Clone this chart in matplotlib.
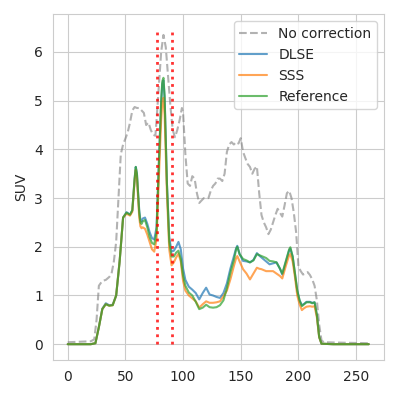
import matplotlib
matplotlib.use("Agg")
import matplotlib.pyplot as plt
import seaborn as sns

# uncorrected profile
x_nc = [0, 10, 20, 23, 25, 27, 30, 33, 36, 38, 40, 42, 44, 46, 48, 50, 52, 54, 56, 58,
        60, 62, 64, 66, 68, 70, 72, 74, 76, 77, 79, 81, 83, 85, 87, 89, 91, 93, 95, 97,
        99, 100, 102, 104, 106, 108, 110, 112, 114, 116, 118, 120, 122, 124, 126, 128, 130, 132, 134, 136,
        138, 140, 142, 144, 146, 148, 150, 152, 154, 156, 158, 160, 162, 164, 166, 168, 170, 172, 174, 176,
        178, 180, 182, 184, 186, 188, 190, 192, 194, 196, 198, 200, 202, 204, 206, 208, 210, 212, 214, 216,
        218, 220, 222, 240, 261]
no_corr = [0.04, 0.05, 0.06, 0.1, 0.5, 1.2, 1.3, 1.32, 1.38, 1.45, 1.7, 2.1, 3.0, 3.9, 4.1, 4.22, 4.35, 4.55, 4.8, 4.87,
           4.85, 4.85, 4.8, 4.75, 4.5, 4.55, 4.4, 4.3, 4.28, 4.6, 5.3, 6.0, 6.35, 6.1, 5.5, 4.9, 4.4, 4.25, 4.4, 4.6,
           4.85, 4.75, 3.9, 3.3, 3.25, 3.45, 3.4, 3.1, 2.9, 2.95, 3.0, 3.0, 3.0, 3.15, 3.25, 3.3, 3.4, 3.4, 3.35, 3.5,
           3.95, 4.1, 4.15, 4.1, 4.15, 4.12, 4.23, 3.95, 3.82, 3.7, 3.64, 3.5, 3.6, 3.65, 3.1, 2.65, 2.5, 2.4, 2.26, 2.35,
           2.5, 2.65, 2.78, 2.7, 2.62, 2.85, 3.1, 3.15, 3.0, 2.7, 2.3, 1.6, 1.5, 1.43, 1.45, 1.48, 1.42, 1.33, 1.2, 0.9,
           0.4, 0.08, 0.04, 0.03, 0.02]

# corrected profiles share one position list
x = [0, 10, 20, 24, 27, 30, 33, 36, 39, 42, 45, 48, 51, 54, 56, 58, 59, 60, 61, 62,
     63, 64, 65, 67, 69, 71, 73, 75, 77, 79, 81, 82, 83, 84, 85, 86, 88, 90, 92, 94,
     96, 98, 100, 102, 105, 108, 111, 114, 117, 120, 123, 126, 129, 132, 135, 138, 141, 144, 146, 147,
     149, 152, 155, 158, 161, 164, 166, 168, 172, 175, 178, 181, 184, 186, 189, 192, 193, 195, 197, 199,
     201, 203, 205, 207, 210, 212, 214, 216, 218, 220, 230, 245, 261]
dlse = [0, 0, 0, 0.02, 0.35, 0.73, 0.84, 0.8, 0.81, 1.0, 1.7, 2.6, 2.71, 2.66, 2.75, 3.4, 3.64, 3.5, 3.1, 2.75,
        2.55, 2.52, 2.58, 2.6, 2.47, 2.3, 2.18, 2.15, 2.4, 3.7, 4.95, 5.35, 5.42, 5.05, 4.2, 3.3, 2.2, 1.9, 1.92, 2.0,
        2.1, 1.95, 1.55, 1.32, 1.18, 1.12, 1.05, 0.92, 1.05, 1.16, 1.02, 1.0, 0.97, 0.95, 1.05, 1.25, 1.55, 1.8, 1.97, 2.02,
        1.85, 1.71, 1.7, 1.68, 1.73, 1.87, 1.82, 1.78, 1.7, 1.64, 1.66, 1.68, 1.55, 1.43, 1.68, 1.93, 1.96, 1.8, 1.45, 1.1,
        0.9, 0.8, 0.83, 0.87, 0.87, 0.85, 0.86, 0.6, 0.15, 0.01, 0, 0, 0]
sss = [0, 0, 0, 0.02, 0.35, 0.72, 0.82, 0.79, 0.8, 1.0, 1.7, 2.6, 2.68, 2.64, 2.72, 3.35, 3.58, 3.42, 3.0, 2.6,
       2.42, 2.38, 2.4, 2.37, 2.25, 2.1, 1.95, 1.9, 2.15, 3.4, 4.6, 4.98, 5.06, 4.7, 3.9, 3.1, 1.95, 1.62, 1.68, 1.78,
       1.86, 1.7, 1.3, 1.1, 1.0, 0.94, 0.88, 0.75, 0.82, 0.88, 0.85, 0.85, 0.86, 0.88, 0.98, 1.1, 1.33, 1.6, 1.77, 1.81,
       1.7, 1.54, 1.45, 1.33, 1.45, 1.57, 1.55, 1.54, 1.5, 1.5, 1.5, 1.45, 1.4, 1.35, 1.6, 1.83, 1.85, 1.7, 1.38, 1.0,
       0.82, 0.7, 0.74, 0.77, 0.78, 0.77, 0.78, 0.55, 0.14, 0.01, 0, 0, 0]
reference = [0, 0, 0, 0.02, 0.35, 0.72, 0.82, 0.79, 0.8, 1.0, 1.7, 2.6, 2.7, 2.66, 2.75, 3.4, 3.64, 3.5, 3.1, 2.7,
             2.5, 2.47, 2.52, 2.55, 2.4, 2.2, 2.08, 2.05, 2.3, 3.7, 5.0, 5.4, 5.47, 5.1, 4.2, 3.3, 2.1, 1.8, 1.8, 1.88,
             1.92, 1.75, 1.4, 1.2, 1.06, 1.0, 0.87, 0.72, 0.75, 0.81, 0.76, 0.75, 0.76, 0.8, 0.9, 1.15, 1.47, 1.72, 1.95, 2.0,
             1.85, 1.75, 1.72, 1.68, 1.72, 1.85, 1.83, 1.81, 1.77, 1.71, 1.7, 1.68, 1.55, 1.45, 1.7, 1.95, 1.99, 1.8, 1.45, 1.1,
             0.9, 0.78, 0.82, 0.86, 0.86, 0.84, 0.86, 0.6, 0.15, 0.01, 0, 0, 0]

roi_bounds = [77, 90]


def main():
    sns.set_style("whitegrid")
    fig = plt.figure(figsize=(3.99, 3.99), dpi=100)
    ax = fig.add_axes([0.132, 0.098, 0.830, 0.866])

    ax.plot(x_nc, no_corr, color="gray", linestyle="--", alpha=0.6, lw=1.5, label="No correction")
    ax.plot(x, dlse, color="tab:blue", alpha=0.7, lw=1.5, label="DLSE")
    ax.plot(x, sss, color="tab:orange", alpha=0.7, lw=1.5, label="SSS")
    ax.plot(x, reference, color="tab:green", alpha=0.7, lw=1.5, label="Reference")
    ax.vlines(roi_bounds, 0, 6.45, colors="red", linestyles=":", lw=2, alpha=0.8)

    ax.set_ylabel("SUV")
    ax.legend(loc="upper right")
    fig.savefig("out.png", dpi=100)
    plt.close(fig)


if __name__ == "__main__":
    main()
